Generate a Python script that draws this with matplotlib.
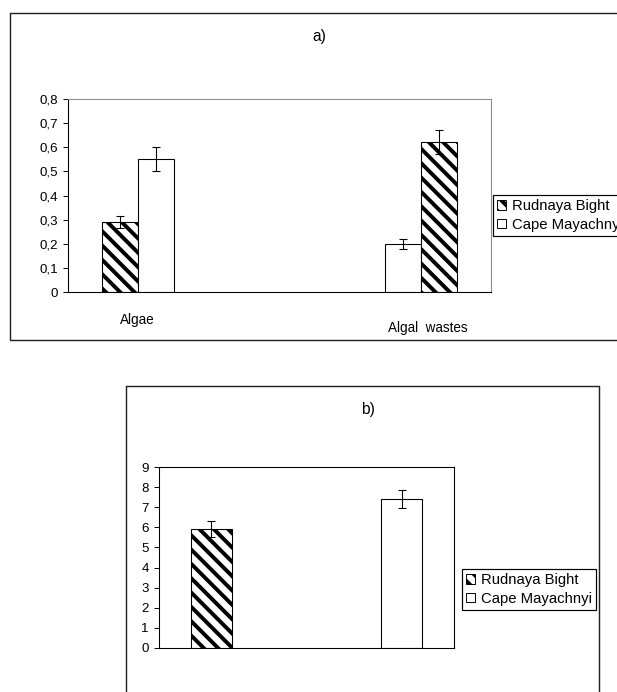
import numpy as np
import matplotlib
matplotlib.use("Agg")
from matplotlib import pyplot as plt
from matplotlib.patches import Rectangle, Patch
from matplotlib.ticker import FuncFormatter

# panel a
groups_a = ["Algae", "Algal  wastes"]
left_a = [0.29, 0.20]
left_err_a = [0.025, 0.02]
right_a = [0.55, 0.62]
right_err_a = [0.05, 0.05]
hatched_left_a = [True, False]
hatched_right_a = [False, True]

# panel b
left_b = [5.9]
left_err_b = [0.4]
right_b = [7.4]
right_err_b = [0.45]

legend_a = ["Rudnaya Bight", "Cape Mayachny"]
legend_b = ["Rudnaya Bight", "Cape Mayachnyi"]

W, H, DPI = 617, 692, 86
plt.rcParams['font.family'] = ['Liberation Sans', 'DejaVu Sans']
plt.rcParams['hatch.linewidth'] = 3.3
plt.rcParams['hatch.color'] = 'black'
HATCH = '\\\\'


def px(x, y, w, h):
    # pixel box (left, top, width, height) -> figure fraction
    return [x / W, 1 - (y + h) / H, w / W, h / H]


def comma(v, pos):
    s = ("%.1f" % v).replace(".", ",")
    return "0" if v == 0 else s


def style_axes(ax):
    ax.spines['top'].set_color('#8c8c8c')
    ax.spines['right'].set_color('#8c8c8c')
    ax.spines['left'].set_color('black')
    ax.spines['bottom'].set_color('black')
    for s in ax.spines.values():
        s.set_linewidth(0.9)
    ax.tick_params(axis='y', direction='out', length=4.5, width=0.8, labelsize=11.2, pad=4)
    ax.tick_params(axis='x', length=0, labelbottom=False)


def draw_bars(ax, x, vals, errs, hatched, width):
    bars = ax.bar(x, vals, width, color='white', edgecolor='black', linewidth=0.9, zorder=2)
    for b, h in zip(bars, hatched):
        if h:
            b.set_hatch(HATCH)
    ax.errorbar(x, vals, yerr=errs, fmt='none', ecolor='black', elinewidth=0.9,
                capsize=3.3, capthick=0.9, zorder=3)
    return bars


fig = plt.figure(figsize=(W / DPI, H / DPI), dpi=DPI)

# outer frames
fig.add_artist(Rectangle((10 / W, 1 - 340 / H), 1.0, 327 / H, transform=fig.transFigure,
                         fill=False, edgecolor='#222222', linewidth=1.2))
fig.add_artist(Rectangle((126 / W, -0.05), 473 / W, 1 - 386 / H + 0.05, transform=fig.transFigure,
                         fill=False, edgecolor='#222222', linewidth=1.2))

# ---- a)
ax1 = fig.add_axes(px(68, 99, 423, 193))
xa = np.arange(len(groups_a))
wa = 0.127
draw_bars(ax1, xa - wa / 2, left_a, left_err_a, hatched_left_a, wa)
draw_bars(ax1, xa + wa / 2, right_a, right_err_a, hatched_right_a, wa)
ax1.set_xlim(-0.247, 1.247)
ax1.set_ylim(0, 0.8)
ax1.set_yticks(np.arange(0, 0.81, 0.1))
ax1.yaxis.set_major_formatter(FuncFormatter(comma))
style_axes(ax1)
fig.text(319 / W, 1 - 36 / H, "a)", ha='center', va='center', fontsize=13)
fig.text(137 / W, 1 - 320 / H, groups_a[0], ha='center', va='center', fontsize=11.3)
fig.text(428 / W, 1 - 328 / H, groups_a[1], ha='center', va='center', fontsize=11.3)

handles = [Patch(facecolor='white', edgecolor='black', hatch=HATCH, linewidth=0.8),
           Patch(facecolor='white', edgecolor='black', linewidth=0.8)]
leg_kw = dict(loc='upper left', fontsize=12.5, frameon=True, fancybox=False,
              edgecolor='black', framealpha=1, handlelength=0.6, handleheight=0.6,
              handletextpad=0.35, borderpad=0.3, labelspacing=0.3, borderaxespad=0)
fig.legend(handles, legend_a, bbox_to_anchor=(493 / W, 1 - 195 / H), **leg_kw)

# ---- b)
ax2 = fig.add_axes(px(159, 467, 295, 181))
wb = 0.22
draw_bars(ax2, [0], left_b, left_err_b, [True], wb)
draw_bars(ax2, [1], right_b, right_err_b, [False], wb)
ax2.set_xlim(-0.276, 1.276)
ax2.set_ylim(0, 9)
ax2.set_yticks(range(0, 10))
style_axes(ax2)
ax2.spines['top'].set_color('black')
ax2.spines['right'].set_color('black')
fig.text(368 / W, 1 - 410 / H, "b)", ha='center', va='center', fontsize=13)
fig.legend(handles, legend_b, bbox_to_anchor=(462 / W, 1 - 569 / H), **leg_kw)

fig.savefig("out.png", dpi=DPI)
